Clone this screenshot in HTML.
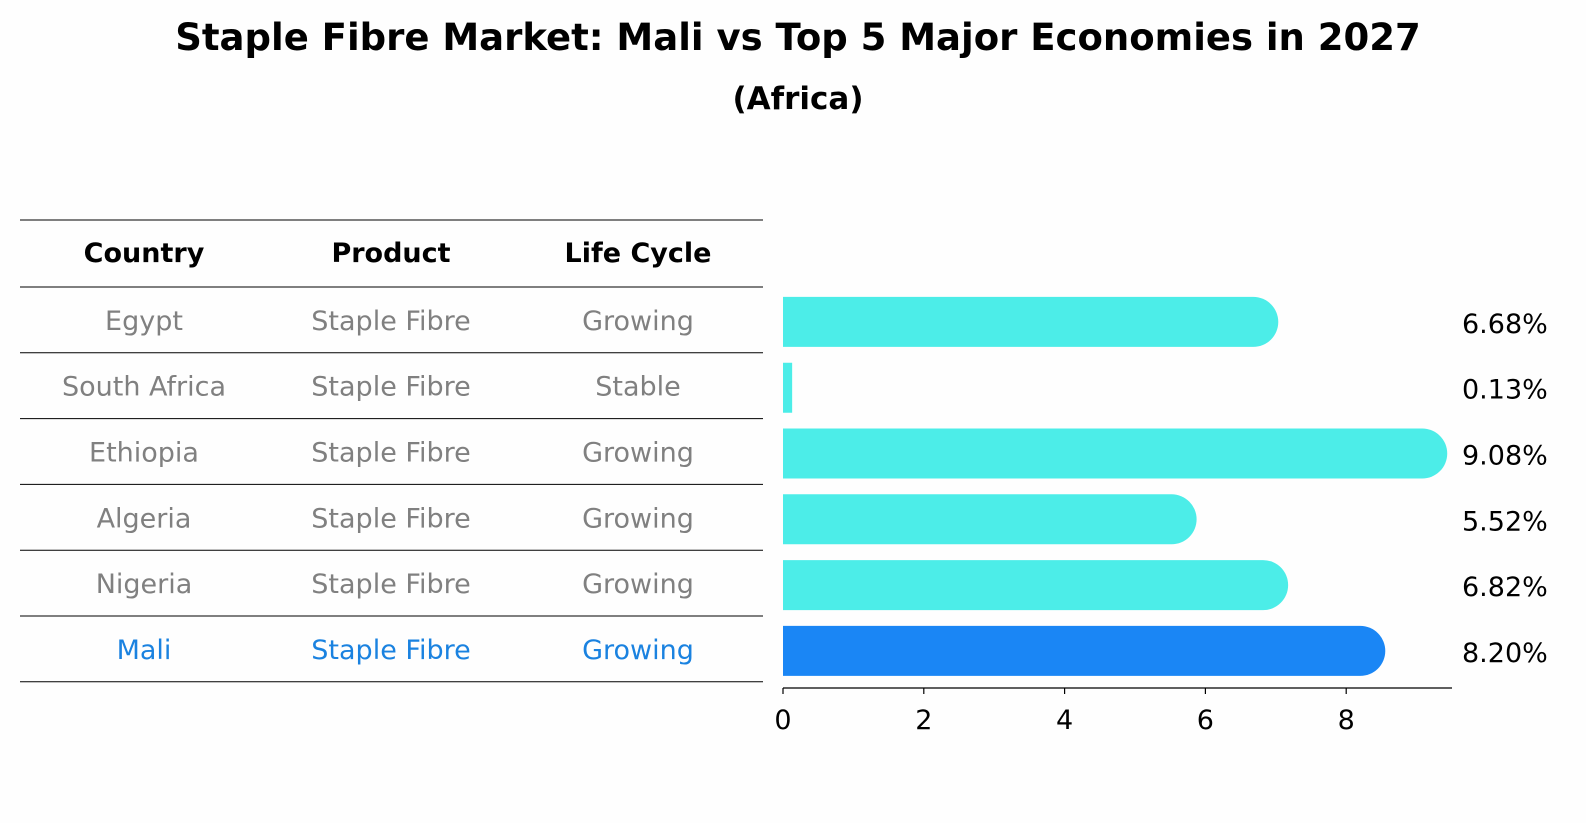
<!DOCTYPE html>
<html><head><meta charset="utf-8">
<style>
body{margin:0;background:#fff;font-family:"Liberation Sans","DejaVu Sans",sans-serif;}
#wrap{position:relative;width:1586px;height:823px;overflow:hidden;background:#fefefe;}
</style></head>
<body>
<div id="wrap">
<svg id="svg" width="1586" height="823" xmlns="http://www.w3.org/2000/svg">
  <text x="798" y="50" text-anchor="middle" font-size="37" font-weight="bold" font-family="DejaVu Sans, Liberation Sans, sans-serif">Staple Fibre Market: Mali vs Top 5 Major Economies in 2027</text>
  <text x="798" y="109" text-anchor="middle" font-size="31" font-weight="bold" font-family="DejaVu Sans, Liberation Sans, sans-serif">(Africa)</text>
  <g id="table"></g>
  <g id="bars"></g>
</svg>
</div>
<script>
const countries = ["Egypt","South Africa","Ethiopia","Algeria","Nigeria","Mali"];
const products = ["Staple Fibre","Staple Fibre","Staple Fibre","Staple Fibre","Staple Fibre","Staple Fibre"];
const lifeCycles = ["Growing","Stable","Growing","Growing","Growing","Growing"];
const values = [6.68,0.13,9.08,5.52,6.82,8.20];
const xTicks = [0,2,4,6,8];

const NS="http://www.w3.org/2000/svg";
const FONT="DejaVu Sans, Liberation Sans, sans-serif";
const FS=27;
function mk(tag,attrs,parent){const e=document.createElementNS(NS,tag);for(const k in attrs)e.setAttribute(k,attrs[k]);parent.appendChild(e);return e;}
const table=document.getElementById('table');
const bars=document.getElementById('bars');

const rowTop=287, rowH=65.8;
const colX=[144,391,638];
const lineYs=[220,287];
for(let i=0;i<countries.length;i++) lineYs.push(rowTop+(i+1)*rowH);
lineYs.forEach((y,i)=>{
  const l=mk('line',{x1:20,x2:763,y1:y,y2:y,stroke:'#000','stroke-width':1},table);
  
  
});
["Country","Product","Life Cycle"].forEach((h,j)=>{
  const t=mk('text',{x:colX[j],y:262,'text-anchor':'middle','font-size':FS,'font-weight':'bold','font-family':FONT},table);
  t.textContent=h;
  
  
});
countries.forEach((c,i)=>{
  const cy=rowTop+(i+0.5)*rowH+10;
  const col=(c==="Mali")?'#1a82e0':'#808080';
  [c,products[i],lifeCycles[i]].forEach((v,j)=>{
    const t=mk('text',{x:colX[j],y:cy,'text-anchor':'middle','font-size':FS,fill:col,'font-family':FONT},table);
    t.textContent=v;
    
    
  });
});

const x0=783, pxPer=70.4, axisEnd=1452, axisY=688;
const xs=v=>x0+v*pxPer;
const barH=50, r=25;
countries.forEach((c,i)=>{
  const cy=rowTop+(i+0.5)*rowH+2;
  const w=xs(values[i])-x0;
  const col=(c==="Mali")?'#1a86f5':'#4cede8';
  let d;
  if(w>r){
    d=`M${x0},${cy-barH/2} H${x0+w} A${r},${r} 0 0 1 ${x0+w},${cy+barH/2} H${x0} Z`;
  } else {
    d=`M${x0},${cy-barH/2} H${x0+w} V${cy+barH/2} H${x0} Z`;
  }
  const p=mk('path',{d:d,fill:col},bars);
  
  
  const t=mk('text',{x:1462,y:cy+11,'font-size':FS,'font-family':FONT},bars);
  t.textContent=values[i].toFixed(2)+'%';
  
  
});
const ax=mk('line',{x1:x0,x2:axisEnd,y1:axisY,y2:axisY,stroke:'#000','stroke-width':1.2},bars);


xTicks.forEach(v=>{
  const tk=mk('line',{x1:xs(v),x2:xs(v),y1:axisY,y2:axisY+6,stroke:'#000','stroke-width':1.2},bars);
  
  
  const t=mk('text',{x:xs(v),y:axisY+41,'text-anchor':'middle','font-size':FS,'font-family':FONT},bars);
  t.textContent=v;
  
  
});
</script>
</body></html>
